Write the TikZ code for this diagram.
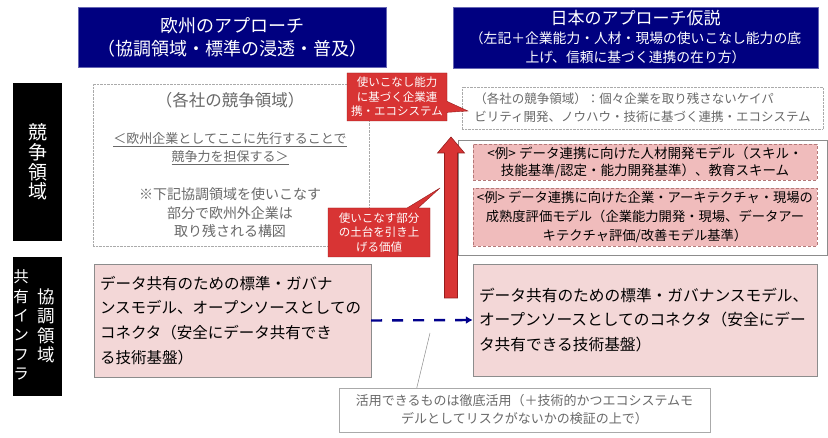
\documentclass[tikz,border=0pt]{standalone}
\usepackage{fontspec}
\setmainfont{Noto Sans CJK JP}
\usepackage{tikz}
\usetikzlibrary{
  shapes.callouts,
  arrows.meta,
  positioning,
  calc
}
\definecolor{titlecolor}{RGB}{0, 0, 128}
\definecolor{calloutcolor}{RGB}{216, 52, 52}
\definecolor{calloutborder}{RGB}{150, 28, 28}
\definecolor{basecolor}{RGB}{243, 215, 215}
\definecolor{examplecolor}{RGB}{240, 188, 188}
\definecolor{exampleborder}{RGB}{180, 120, 120}
\definecolor{boxborder}{RGB}{140, 140, 140}
\definecolor{dotborder}{RGB}{170, 170, 170}
\definecolor{graytext}{RGB}{105, 105, 105}
\definecolor{flowcolor}{RGB}{0, 0, 140}
\tikzset{
titlebox/.style={
  fill=titlecolor,
  draw=titlecolor!60,
  text=white,
  align=center,
  inner sep=0pt
},
sidebox/.style={
  fill=black,
  inner sep=0pt
},
sidetext/.style={
  text=white,
  align=center,
  inner sep=0pt,
  font=\fontsize{17.5}{19.5}\selectfont
},
areabox/.style={
  draw=dotborder,
  densely dotted,
  inner sep=0pt
},
graylabel/.style={
  text=graytext,
  align=center,
  inner sep=0pt
},
redcallout/.style={
  rectangle callout,
  fill=calloutcolor,
  draw=calloutborder,
  text=white,
  align=center,
  inner sep=0pt,
  callout pointer width=11pt,
  font=\fontsize{11.5}{14.5}\selectfont
},
examplebox/.style={
  draw=exampleborder,
  densely dashed,
  fill=examplecolor,
  align=center,
  inner sep=0pt,
  font=\fontsize{13.5}{17}\selectfont
},
basebox/.style={
  draw=boxborder,
  fill=basecolor,
  align=left,
  inner sep=0pt
},
notebox/.style={
  draw=dotborder,
  text=graytext,
  align=center,
  inner sep=0pt,
  font=\fontsize{13}{18}\selectfont
},
bigarrow/.style={
  fill=calloutcolor,
  draw=calloutborder,
  line width=0.6pt
},
flowarrow/.style={
  draw=flowcolor,
  line width=2.4pt,
  dash pattern=on 11pt off 10pt,
  -{Latex[length=7pt,width=8pt]}
},
noteline/.style={
  draw=boxborder,
  line width=0.5pt
}
}

\begin{document}
\begin{tikzpicture}[x=1pt,y=-1pt]
  \useasboundingbox[fill=white] (0,0) rectangle (828,438);

  \node[titlebox, minimum width=308pt, minimum height=60pt,
    font=\fontsize{18}{23}\selectfont] (eutitle) at (232,37)
    {欧州のアプローチ\\（協調領域・標準の浸透・普及）};
  \node[titlebox, minimum width=365pt, minimum height=61pt,
    font=\fontsize{17}{19}\selectfont] (jptitle) at (635.5,37.5)
    {日本のアプローチ仮説\\
     \fontsize{13.8}{16.5}\selectfont （左記＋企業能力・人材・現場の使いこなし能力の底\\
     \fontsize{13.8}{16.5}\selectfont 上げ、信頼に基づく連携の在り方）};

  \node[sidebox, minimum width=49pt, minimum height=158pt] (compside) at (37.5,162) {};
  \node[sidetext, font=\fontsize{19}{19.7}\selectfont] (comptext) at (37.5,162) {競\\争\\領\\域};
  \node[sidebox, minimum width=49pt, minimum height=139pt] (coopside) at (37.5,326.5) {};
  \node[sidetext, font=\fontsize{15.5}{19.4}\selectfont] (infratext) at (21,325) {共\\有\\イ\\ン\\フ\\ラ};
  \node[sidetext] (cooptext) at (46,326) {協\\調\\領\\域};

  \node[areabox, minimum width=276pt, minimum height=162pt] (euarea) at (231,165) {};
  \node[graylabel, font=\fontsize{16.5}{20}\selectfont] (euareatitle) at (230,100)
    {（各社の競争領域）};
  \node[graylabel, font=\fontsize{13}{18}\selectfont] (eulead) at (230,149)
    {\underline{＜欧州企業としてここに先行することで}\\\underline{競争力を担保する＞}};
  \node[graylabel, font=\fontsize{14}{18.5}\selectfont] (eunote) at (230,213)
    {※下記協調領域を使いこなす\\部分で欧州外企業は\\取り残される構図};

  \node[areabox, minimum width=361pt, minimum height=42pt, graylabel,
    align=left, font=\fontsize{12.5}{18}\selectfont] (jparea) at (642.5,108)
    {（各社の競争領域）：個々企業を取り残さないケイパ\\ビリティ開発、ノウハウ・技術に基づく連携・エコシステム};
  \node[draw=boxborder, minimum width=369pt, minimum height=115pt] (examplegroup) at (642.5,197.5) {};
  \node[examplebox, minimum width=344pt, minimum height=36pt] (example1) at (645,162)
    {<例> データ連携に向けた人材開発モデル（スキル・\\技能基準/認定・能力開発基準）、教育スキーム};
  \node[examplebox, minimum width=344pt, minimum height=58pt,
    font=\fontsize{13.3}{19}\selectfont] (example2) at (645,217)
    {<例> データ連携に向けた企業・アーキテクチャ・現場の\\成熟度評価モデル（企業能力開発・現場、データアー\\キテクチャ評価/改善モデル基準）};

  \node[basebox, minimum width=277pt, minimum height=113pt, text width=265pt,
    font=\fontsize{15.5}{24.8}\selectfont] (eubase) at (232.5,320.5)
    {データ共有のための標準・ガバナ\\ンスモデル、オープンソースとしての\\コネクタ（安全にデータ共有でき\\る技術基盤）};
  \node[basebox, minimum width=344pt, minimum height=112pt, text width=332pt,
    font=\fontsize{15.7}{24.5}\selectfont] (jpbase) at (645,320)
    {データ共有のための標準・ガバナンスモデル、\\オープンソースとしてのコネクタ（安全にデー\\タ共有できる技術基盤）};

  \coordinate (arrbot) at (451,298);
  \coordinate (arrneck) at (451,153);
  \coordinate (arrtop) at (451,137);
  \draw[bigarrow] ($(arrbot)+(-6.5,0)$) -- ($(arrneck)+(-6.5,0)$) -- ($(arrneck)+(-13.5,0)$)
    -- (arrtop) -- ($(arrneck)+(13.5,0)$) -- ($(arrneck)+(6.5,0)$) -- ($(arrbot)+(6.5,0)$) -- cycle;

  \coordinate (toptip) at (468,111);
  \coordinate (lowtip) at (440,188);
  \node[redcallout, minimum width=100pt, minimum height=48pt,
    callout absolute pointer=(toptip)] (topcall) at (397,97)
    {使いこなし能力\\に基づく企業連\\携・エコシステム};
  \node[redcallout, minimum width=102pt, minimum height=49pt,
    callout absolute pointer=(lowtip)] (lowcall) at (379,232.5)
    {使いこなす部分\\の土台を引き上\\げる価値};

  \draw[flowarrow] (eubase.east) -- (jpbase.west);

  \node[notebox, minimum width=371pt, minimum height=44pt] (note) at (524.5,410)
    {活用できるものは徹底活用（＋技術的かつエコシステムモ\\デルとしてリスクがないかの検証の上で）};
  \coordinate (notetip) at (430,333);
  \draw[noteline] ($(note.north west)+(78,0)$) -- (notetip);
\end{tikzpicture}
\end{document}
